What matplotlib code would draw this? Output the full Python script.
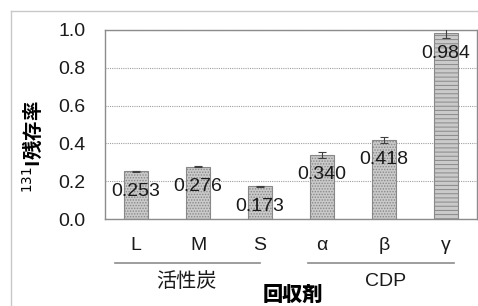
import matplotlib
matplotlib.use('Agg')
import matplotlib.pyplot as plt
from matplotlib.lines import Line2D

plt.rcParams['font.family'] = ['Liberation Sans', 'Noto Sans CJK JP', 'DejaVu Sans']
plt.rcParams['hatch.linewidth'] = 0.7

# データ
labels = ['L', 'M', 'S', 'α', 'β', 'γ']
values = [0.253, 0.276, 0.173, 0.340, 0.418, 0.984]
errors = [0.002, 0.002, 0.003, 0.015, 0.015, 0.025]
value_text = ['0.253', '0.276', '0.173', '0.340', '0.418', '0.984']
groups = ['活性炭', 'CDP']
hatches = ['......', '......', '......', '......', '......', '----']

fig = plt.figure(figsize=(4.78, 3.06), dpi=100)
ax = fig.add_axes([105/478, 1-219/306, 372/478, 189/306])

x = list(range(len(labels)))
ax.bar(x, values, width=0.4, color='#cacaca', edgecolor='#888888',
       linewidth=0.8, hatch=hatches, zorder=2)
ax.errorbar(x, values, yerr=errors, fmt='none', ecolor='#404040',
            elinewidth=0.8, capsize=3, capthick=0.8, zorder=3)

for xi, v, t in zip(x, values, value_text):
    ax.annotate(t, (xi, v), xytext=(0, -14.4), textcoords='offset points',
                ha='center', va='center', fontsize=14, color='#1a1a1a', zorder=4)

ax.set_xlim(-0.5, 5.5)
ax.set_ylim(0, 1.0)
ax.set_yticks([0, 0.2, 0.4, 0.6, 0.8, 1.0])
ax.set_yticklabels(['0.0', '0.2', '0.4', '0.6', '0.8', '1.0'])
ax.set_xticks(x)
ax.set_xticklabels(labels)
ax.tick_params(length=0, labelsize=14, labelcolor='#1a1a1a')
ax.tick_params(axis='y', pad=14)
ax.tick_params(axis='x', pad=13)
ax.yaxis.grid(True, linestyle=(0, (1, 1)), color='#a0a0a0', linewidth=0.8, zorder=0)
for s in ax.spines.values():
    s.set_color('#8c8c8c')
    s.set_linewidth(1.0)

# グループ
tr = ax.get_xaxis_transform()
ax.add_line(Line2D([-0.34, 2.0], [-0.233, -0.233], transform=tr, color='#8c8c8c',
                   linewidth=1.2, clip_on=False))
ax.add_line(Line2D([2.77, 5.13], [-0.233, -0.233], transform=tr, color='#8c8c8c',
                   linewidth=1.2, clip_on=False))
ax.text(0.82, -0.333, groups[0], transform=tr, ha='center', va='center',
        fontsize=14.5, family=['Noto Sans CJK JP', 'DejaVu Sans'], color='#1a1a1a')
ax.text(4.02, -0.333, groups[1], transform=tr, ha='center', va='center',
        fontsize=14, color='#1a1a1a')

fig.text(293/478, 1/306, '回収剤', ha='center', va='bottom', fontsize=14.5,
         fontweight='heavy', family=['Noto Sans CJK JP', 'DejaVu Sans'])
fig.text(32/478, 1-147/306, '$^{131}$I残存率', ha='center', va='center', rotation=90,
         fontsize=14, fontweight='bold', family=['Noto Sans CJK JP', 'DejaVu Sans'])

# 外枠
fig.add_artist(Line2D([10.5/478, 10.5/478], [0, 1-10.5/306], transform=fig.transFigure,
                      color='#c8c8c8', linewidth=1.0))
fig.add_artist(Line2D([10.5/478, 1], [1-10.5/306, 1-10.5/306], transform=fig.transFigure,
                      color='#c8c8c8', linewidth=1.0))

fig.savefig('out.png', dpi=100)
